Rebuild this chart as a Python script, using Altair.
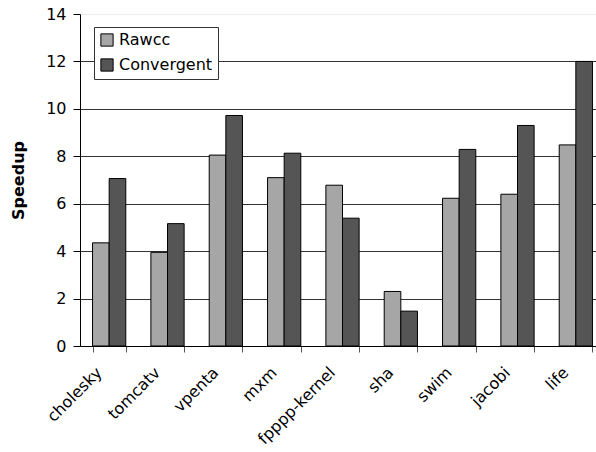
import altair as alt
import pandas as pd

# Benchmarks and measured speedups for the two compilers
benchmarks = ["cholesky", "tomcatv", "vpenta", "mxm", "fpppp-kernel", "sha", "swim", "jacobi", "life"]
rawcc = [4.35, 3.95, 8.05, 7.1, 6.78, 2.3, 6.23, 6.4, 8.48]
convergent = [7.06, 5.16, 9.72, 8.13, 5.39, 1.47, 8.29, 9.3, 12.0]
series = ["Rawcc", "Convergent"]
series_colors = ["#a6a6a6", "#555555"]
y_ticks = [0, 2, 4, 6, 8, 10, 12, 14]

rows = []
for b, r, c in zip(benchmarks, rawcc, convergent):
    rows.append({"bench": b, "series": "Rawcc", "value": r})
    rows.append({"bench": b, "series": "Convergent", "value": c})
df = pd.DataFrame(rows)

FONT = "DejaVu Sans"

chart = (
    alt.Chart(df)
    .mark_bar(stroke="black", strokeWidth=1)
    .encode(
        x=alt.X(
            "bench:N",
            sort=benchmarks,
            scale=alt.Scale(range=[0, 525], paddingInner=0.43, paddingOuter=0.215),
            axis=alt.Axis(
                title=None,
                labelAngle=-45,
                labelFontSize=16,
                labelFont=FONT,
                labelColor="black",
                labelPadding=12,
                labelOffset=-16,
                tickBand="extent",
                tickSize=6,
                tickColor="#555555",
                domainColor="black",
                grid=False,
            ),
        ),
        xOffset=alt.XOffset("series:N", sort=series, scale=alt.Scale(paddingInner=0, paddingOuter=0)),
        y=alt.Y(
            "value:Q",
            scale=alt.Scale(domain=[0, 14], nice=False),
            axis=alt.Axis(
                title="Speedup",
                titleFont=FONT,
                titleFontSize=16,
                titleFontWeight="bold",
                titleColor="black",
                titlePadding=19,
                values=y_ticks,
                labelFontSize=16,
                labelFont=FONT,
                labelColor="black",
                labelPadding=7,
                tickSize=7,
                tickColor="black",
                domainColor="black",
                gridColor={"condition": {"test": "datum.value === 14", "value": "#ececec"}, "value": "#333333"},
                gridWidth=1,
            ),
        ),
        color=alt.Color(
            "series:N",
            sort=series,
            scale=alt.Scale(domain=series, range=series_colors),
            legend=alt.Legend(
                title=None,
                orient="none",
                legendX=14,
                legendY=13,
                fillColor="white",
                strokeColor="#333333",
                padding=5,
                symbolType="square",
                symbolSize=150,
                symbolStrokeColor="black",
                symbolStrokeWidth=1,
                symbolOpacity=1,
                labelFont=FONT,
                labelFontSize=16,
                labelColor="black",
                labelOffset=4,
                rowPadding=7,
            ),
        ),
    )
    .properties(
        width=516,
        height=332,
        autosize=alt.AutoSizeParams(type="none"),
        padding={"left": 80, "top": 14, "right": 0, "bottom": 106},
    )
    .configure_view(stroke=None)
)

chart.save("out.html", embed_options={"renderer": "svg", "actions": False})
